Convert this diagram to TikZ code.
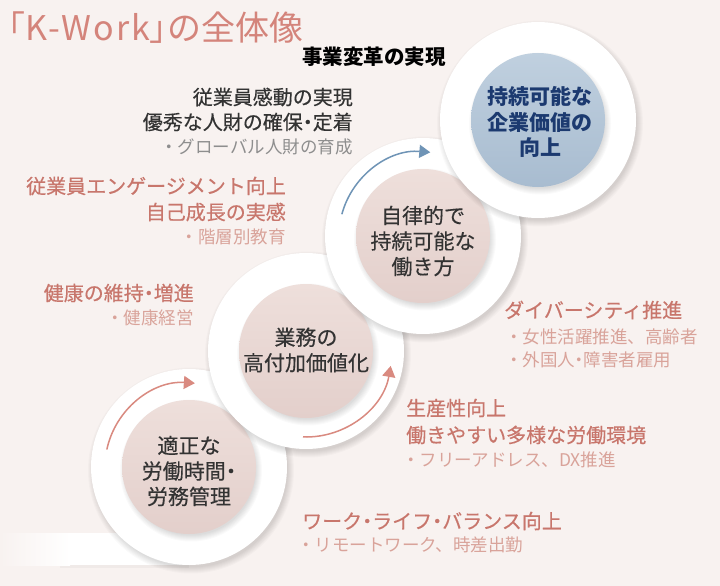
\documentclass[tikz,border=0pt]{standalone}
\usepackage{fontspec}
\setmainfont{Noto Sans CJK JP}
\newfontfamily\medfont{Noto Sans CJK JP}[FakeBold=0.4]
\usetikzlibrary{arrows.meta,calc}
\definecolor{bg}{HTML}{F8F2F0}
\definecolor{salmon}{HTML}{C8766C}
\definecolor{salmonlt}{HTML}{D9A39A}
\definecolor{titlec}{HTML}{D4847B}
\definecolor{darktxt}{HTML}{333333}
\definecolor{graytxt}{HTML}{8E8E8E}
\definecolor{pinkc}{HTML}{EEDFDB}
\definecolor{pinkd}{HTML}{E3CFCB}
\definecolor{bluec}{HTML}{C0D0DF}
\definecolor{blued}{HTML}{A8BCD0}
\definecolor{navy}{HTML}{1C3A70}
\definecolor{arrsal}{HTML}{D98A80}
\definecolor{arrblu}{HTML}{6F94B6}
\newcommand{\dt}{{\addfontfeature{RawFeature=+halt}・}}
\tikzset{
  disk/.style={circle,fill=white,minimum size=196pt,inner sep=0pt},
  pinkdisk/.style={circle,top color=pinkc,bottom color=pinkd,minimum size=134pt,inner sep=0pt},
  bluedisk/.style={circle,top color=bluec,bottom color=blued,minimum size=134pt,inner sep=0pt},
  ctext/.style={align=center,inner sep=0pt,text=darktxt,font=\medfont\fontsize{21}{25.5}\selectfont},
  ctextb/.style={align=center,inner sep=0pt,text=navy,font=\bfseries\fontsize{21}{25.5}\selectfont},
  hd/.style={inner sep=0pt,font=\medfont\fontsize{20}{24}\selectfont},
  bl/.style={inner sep=0pt,font=\fontsize{17.5}{21}\selectfont},
  arrS/.style={draw=arrsal,line width=1.5pt,-{Triangle[length=11pt,width=13pt]}},
  arrB/.style={draw=arrblu,line width=1.5pt,-{Triangle[length=11pt,width=13pt]}},
}
\newcommand{\softshadow}[2]{%
  \foreach \k in {1,...,7}{\fill[black,opacity=0.018] ($(#1)+(2,-3.5)$) circle ({#2+\k-1});}}
\begin{document}
\begin{tikzpicture}[x=1pt,y=1pt]
\useasboundingbox (0,0) rectangle (720,-586);
\fill[bg] (0,0) rectangle (720,-586);

\coordinate (A) at (189,-467);
\coordinate (B) at (306,-351);
\coordinate (C) at (423,-236);
\coordinate (D) at (538,-120);

% white band at the bottom left
\fill[black,opacity=0.03] (60,-536) rectangle (189,-568);
\shade[left color=bg,right color=white] (0,-533) rectangle (70,-565);
\fill[white] (69.5,-533) rectangle (189,-565);

% disk A
\softshadow{A}{97}
\node[disk] (Aw) at (A) {};
\softshadow{A}{65}
\node[pinkdisk] (Ai) at (A) {};
\node[ctext] (At) at (189,-471) {適正な\\労働時間\dt\\労務管理};

% disk B
\softshadow{B}{97}
\node[disk] (Bw) at (B) {};
\softshadow{B}{65}
\node[pinkdisk] (Bi) at (B) {};
\node[ctext] (Bt) at (306,-350) {業務の\\高付加価値化};

% disk C
\softshadow{C}{97}
\node[disk] (Cw) at (C) {};
\softshadow{C}{65}
\node[pinkdisk] (Ci) at (C) {};
\node[ctext] (Ct) at (423,-241) {自律的で\\持続可能な\\働き方};

% disk D
\softshadow{D}{97}
\node[disk] (Dw) at (D) {};
\softshadow{D}{65}
\node[bluedisk] (Di) at (D) {};
\node[ctextb] (Dt) at (540,-122) {持続可能な\\企業価値の\\向上};

% arrows on the rings
\draw[arrS] ($(A)+(168:84)$) arc[start angle=168,end angle=86,radius=84];
\draw[arrS] ($(B)+(-92:86)$) arc[start angle=-92,end angle=-10,radius=86];
\draw[arrB] ($(C)+(165:84)$) arc[start angle=165,end angle=85,radius=84];

% title
\node[anchor=west,inner sep=0pt,text=titlec,font=\fontsize{34}{38}\selectfont] (title) at (8,-28)
  {{\addfontfeature{RawFeature=+palt}「}{\addfontfeature{LetterSpace=6}K-Work}{\addfontfeature{RawFeature=+palt}」}の全体像};
\node[anchor=west,inner sep=0pt,text=black,font=\bfseries\fontsize{20.5}{24}\selectfont] (goal) at (302,-57) {事業変革の実現};

% left texts
\node[hd,anchor=east,text=darktxt] (l1) at (353,-97) {従業員感動の実現};
\node[hd,anchor=east,text=darktxt] (l2) at (353,-122) {優秀な人財の確保\dt 定着};
\node[bl,anchor=east,text=graytxt] (l3) at (353,-147) {・グローバル人財の育成};

\node[hd,anchor=east,text=salmon] (m1) at (286,-186) {従業員エンゲージメント向上};
\node[hd,anchor=east,text=salmon] (m2) at (286,-212) {自己成長の実感};
\node[bl,anchor=east,text=salmonlt] (m3) at (286,-237) {・階層別教育};

\node[hd,anchor=east,text=salmon] (n1) at (194,-293) {健康の維持\dt 増進};
\node[bl,anchor=east,text=salmonlt] (n2) at (194,-318) {・健康経営};

% right texts
\node[hd,anchor=west,text=salmon] (r1) at (504,-310) {ダイバーシティ推進};
\node[bl,anchor=west,text=salmonlt] (r2) at (505,-337) {・女性活躍推進、高齢者};
\node[bl,anchor=west,text=salmonlt] (r3) at (505,-360) {・外国人\dt 障害者雇用};

\node[hd,anchor=west,text=salmon] (s1) at (406,-408) {生産性向上};
\node[hd,anchor=west,text=salmon] (s2) at (406,-435) {働きやすい多様な労働環境};
\node[bl,anchor=west,text=salmonlt] (s3) at (402,-460) {・フリーアドレス、DX推進};

\node[hd,anchor=west,text=salmon] (w1) at (302,-521) {ワーク\dt ライフ\dt バランス向上};
\node[bl,anchor=west,text=salmonlt] (w2) at (297,-545) {・リモートワーク、時差出勤};
\end{tikzpicture}
\end{document}
